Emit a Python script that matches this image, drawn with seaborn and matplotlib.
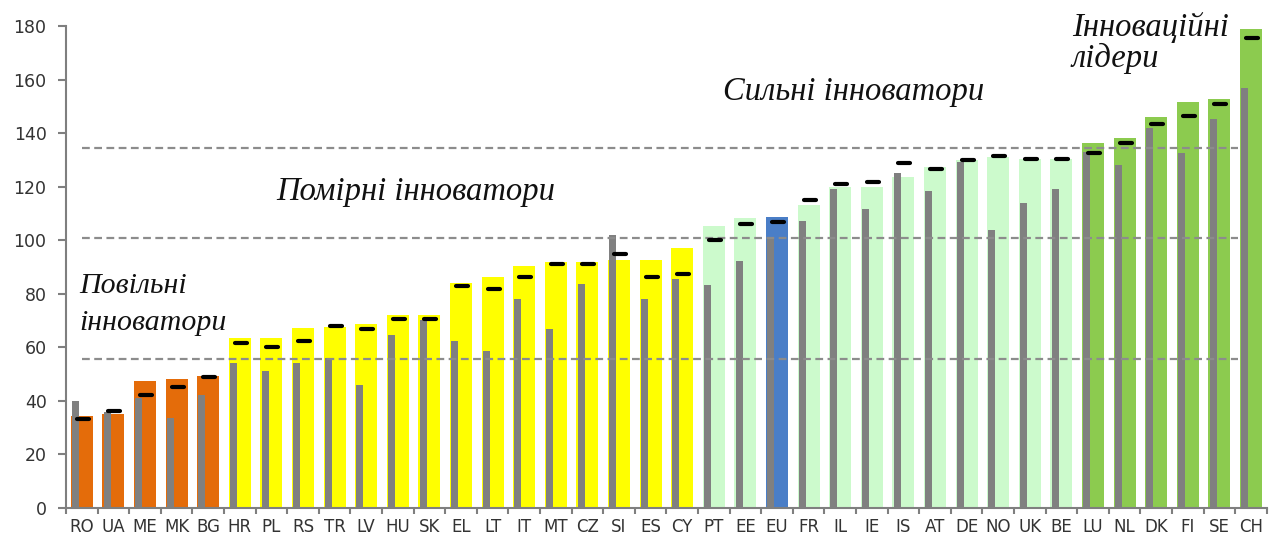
"""
Summary innovation index by country: grouped bars, earlier-year bars and markers
"""

import numpy as np
import pandas as pd
import matplotlib
matplotlib.use('Agg')
import matplotlib.pyplot as plt
from matplotlib.markers import MarkerStyle
import seaborn as sns

# Data
countries = ['RO', 'UA', 'ME', 'MK', 'BG', 'HR', 'PL', 'RS', 'TR', 'LV', 'HU', 'SK',
             'EL', 'LT', 'IT', 'MT', 'CZ', 'SI', 'ES', 'CY', 'PT', 'EE', 'EU', 'FR',
             'IL', 'IE', 'IS', 'AT', 'DE', 'NO', 'UK', 'BE', 'LU', 'NL', 'DK', 'FI',
             'SE', 'CH']
groups = (['modest'] * 5 + ['moderate'] * 15 + ['strong'] * 2 + ['eu'] +
          ['strong'] * 9 + ['leader'] * 6)
score_main = [34.5, 35.0, 47.5, 48.0, 49.3, 63.6, 63.6, 67.3, 67.7, 68.7, 72.0, 72.0,
              83.9, 86.4, 90.4, 92.0, 92.0, 92.6, 92.6, 97.2, 105.4, 108.5, 108.8, 113.1,
              120.0, 120.0, 123.5, 127.5, 130.0, 131.0, 130.5, 130.2, 136.4, 138.3, 146.0, 151.6,
              152.8, 178.9]
score_grey = [40.0, 36.0, 41.0, 33.5, 42.2, 54.0, 51.0, 54.0, 56.0, 46.0, 64.6, 70.2,
              62.5, 58.7, 78.0, 66.7, 83.5, 102.0, 78.0, 85.4, 83.3, 92.4, 101.0, 107.3,
              119.0, 111.6, 125.2, 118.4, 129.3, 104.0, 114.0, 119.1, 133.0, 128.3, 142.0, 132.7,
              145.5, 157.0]
score_mark = [33.2, 36.3, 42.2, 45.3, 48.9, 61.7, 60.2, 62.5, 68.0, 66.8, 70.7, 70.7,
              82.9, 81.8, 86.4, 91.1, 91.1, 94.7, 86.4, 87.3, 100.1, 105.9, 106.7, 115.0,
              121.0, 121.9, 128.7, 126.7, 130.0, 131.5, 130.5, 130.5, 132.6, 136.4, 143.4, 146.3,
              150.9, 175.6]
thresholds = [55.5, 100.8, 134.4]

palette = {
    'modest': '#E46C0A',
    'moderate': '#FFFF00',
    'strong': '#CCFACC',
    'eu': '#4A7EC7',
    'leader': '#8CCB4F',
}

sns.set_style('ticks')
plt.rcParams['font.family'] = ['DejaVu Sans']

df = pd.DataFrame({'country': countries, 'group': groups, 'score': score_main})
x = np.arange(len(countries))

fig, ax = plt.subplots(figsize=(12.77, 5.45), dpi=100)
fig.subplots_adjust(left=0.0517, right=0.992, bottom=0.068, top=0.952)

sns.barplot(data=df, x='country', y='score', hue='group', palette=palette,
            dodge=False, width=0.7, saturation=1, legend=False, ax=ax, zorder=2,
            linewidth=0, edgecolor='none')

# earlier-year values as thin grey bars
ax.bar(x - 0.2, score_grey, width=0.22, color='#808080', linewidth=0, zorder=3)

# group thresholds
ax.hlines(thresholds, 0.0, 36.6, colors='#8c8c8c', linestyles=(0, (3.5, 2)),
          linewidth=1.6, zorder=4)

# black markers
ax.plot(x + 0.03, score_mark, ls='none', marker=MarkerStyle('_', capstyle='round'),
        markersize=9, markeredgewidth=3, color='black', zorder=5)

ax.set_xlim(-0.5, len(countries) - 0.5)
ax.set_ylim(0, 180)
ax.set_yticks(range(0, 181, 20))
ax.set_xlabel('')
ax.set_ylabel('')

for side in ['top', 'right']:
    ax.spines[side].set_visible(False)
for side in ['left', 'bottom']:
    ax.spines[side].set_color('#7f7f7f')
    ax.spines[side].set_linewidth(1.5)

ax.tick_params(axis='y', length=6, width=1.5, color='#7f7f7f', labelsize=12.5,
               labelcolor='#333333', pad=8, left=True)
ax.tick_params(axis='x', which='major', length=0, labelsize=12,
               labelcolor='#333333', pad=7, bottom=True)
ax.set_xticks(np.arange(-0.5, len(countries), 1), minor=True)
ax.tick_params(axis='x', which='minor', length=4, width=1.5, color='#7f7f7f', bottom=True)

label_kw = dict(family=['Liberation Serif'], style='italic', color='#111111',
                va='baseline', ha='left', zorder=6)
ax.text(-0.09, 80.2, 'Повільні', fontsize=21.5, **label_kw)
ax.text(-0.09, 66.5, 'інноватори', fontsize=21.5, **label_kw)
ax.text(6.15, 115, 'Помірні інноватори', fontsize=23.5, **label_kw)
ax.text(20.28, 152.4, 'Сильні інноватори', fontsize=23.5, **label_kw)
ax.text(31.33, 176.5, 'Інноваційні', fontsize=23.5, **label_kw)
ax.text(31.33, 164.8, 'лідери', fontsize=23.5, **label_kw)

fig.savefig('out.png', dpi=100)
